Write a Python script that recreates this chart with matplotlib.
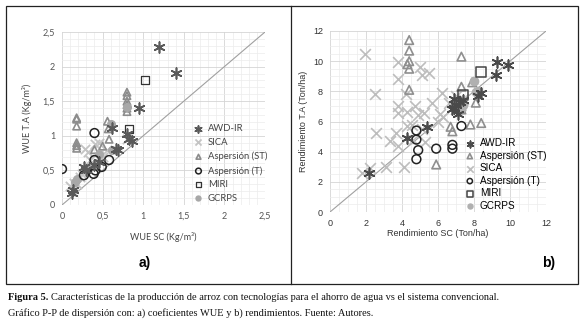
import matplotlib.pyplot as plt
import numpy as np
from matplotlib.patches import Rectangle
from matplotlib.lines import Line2D

# ---- data, panel a (WUE) ----
awd_a_x = [1.20, 1.41, 0.95, 0.61, 0.82, 0.86, 0.80, 0.67, 0.69, 0.14, 0.12, 0.30, 0.27, 0.45, 0.40]
awd_a_y = [2.28, 1.91, 1.40, 1.11, 0.95, 0.93, 1.02, 0.81, 0.80, 0.21, 0.17, 0.50, 0.55, 0.62, 0.58]
sica_a_x = [0.10, 0.15, 0.22, 0.28, 0.32, 0.35, 0.41, 0.45, 0.38, 0.55, 0.50, 0.80, 0.25, 0.18]
sica_a_y = [0.28, 0.32, 0.40, 0.81, 0.76, 0.65, 0.88, 0.90, 0.60, 0.80, 0.70, 0.95, 0.45, 0.30]
asp_st_a_x = [0.18, 0.18, 0.18, 0.18, 0.18, 0.18, 0.56, 0.57, 0.58, 0.40, 0.50,
              0.80, 0.80, 0.80, 0.80, 0.80, 0.80]
asp_st_a_y = [1.26, 1.24, 1.14, 0.90, 0.86, 0.82, 1.21, 1.10, 0.95, 0.80, 0.85,
              1.63, 1.58, 1.50, 1.45, 1.40, 1.35]
asp_t_a_x = [0.00, 0.40, 0.40, 0.58, 0.49, 0.41, 0.39, 0.27]
asp_t_a_y = [0.52, 1.04, 0.65, 0.65, 0.55, 0.50, 0.45, 0.43]
miri_a_x = [1.02, 0.82]
miri_a_y = [1.80, 1.10]
gcrps_a_x = [0.60, 0.45, 0.41, 0.18, 0.16, 0.61, 0.80, 0.35]
gcrps_a_y = [1.17, 0.74, 0.57, 0.38, 0.33, 0.79, 1.42, 0.55]

# ---- data, panel b (yields) ----
awd_b_x = [9.3, 9.9, 9.2, 8.4, 8.2, 6.9, 7.0, 7.2, 6.8, 7.4, 7.1, 6.9, 2.15, 4.3, 5.4]
awd_b_y = [9.97, 9.75, 9.05, 7.9, 7.7, 7.5, 7.1, 7.3, 6.8, 7.4, 6.5, 6.9, 2.6, 4.9, 5.65]
sica_b_x = [1.95, 2.5, 2.55, 1.8, 2.2, 3.1, 3.35, 3.65, 3.8, 3.75, 3.8, 3.8, 3.8, 4.1,
            4.25, 4.2, 4.55, 4.7, 4.9, 5.0, 5.1, 5.2, 5.5, 5.25, 5.65, 6.1, 6.2, 6.3,
            6.6, 7.0, 7.4, 7.0, 5.1, 4.6, 4.3, 6.0]
sica_b_y = [10.45, 7.85, 5.25, 2.6, 2.95, 3.0, 4.7, 5.25, 4.35, 7.0, 6.55, 8.85, 9.95, 3.0,
            6.6, 7.8, 5.75, 7.05, 6.4, 9.6, 9.05, 6.55, 9.2, 4.65, 7.2, 6.5, 7.9, 6.3,
            7.2, 7.7, 7.5, 6.8, 5.5, 4.8, 5.7, 6.0]
asp_st_b_x = [4.4, 4.4, 4.4, 4.3, 4.4, 4.4, 7.3, 7.9, 7.3, 8.1, 6.7, 6.8, 7.8, 8.4, 5.9, 7.3, 7.3]
asp_st_b_y = [11.4, 10.7, 10.0, 9.8, 9.5, 8.1, 10.3, 8.6, 8.3, 7.25, 5.65, 5.35, 5.8, 5.9, 3.15, 7.0, 6.8]
asp_t_b_x = [4.8, 4.8, 4.9, 4.8, 5.9, 6.8, 6.8, 7.3]
asp_t_b_y = [5.4, 4.8, 4.1, 3.5, 4.2, 4.45, 4.2, 5.7]
miri_b_x = [8.4, 7.4]
miri_b_y = [9.3, 7.75]
gcrps_b_x = [8.0, 8.1, 8.2, 7.3, 7.4]
gcrps_b_y = [8.7, 7.95, 8.0, 6.9, 7.1]

W, H = 581, 330
fig = plt.figure(figsize=(W / 100, H / 100), dpi=100)
fig.patch.set_facecolor('white')


def fx(px):
    return px / W


def fy(py):
    return 1 - py / H


# outer frame and divider
fig.add_artist(Rectangle((fx(6), fy(284)), fx(578) - fx(6), fy(6) - fy(284),
                         transform=fig.transFigure, fill=False, lw=0.9, ec='#222222'))
fig.add_artist(Line2D([fx(290.5), fx(290.5)], [fy(284), fy(6)], transform=fig.transFigure,
                      lw=0.9, color='#222222'))

STAR = (6, 2, 0)


def style_axes(ax, lim, major, minor, tick_labels, font, tcolor, fs):
    ax.set_xlim(0, lim)
    ax.set_ylim(0, lim)
    ax.set_xticks(np.arange(0, lim + 1e-9, major))
    ax.set_yticks(np.arange(0, lim + 1e-9, major))
    ax.set_xticks(np.arange(0, lim + 1e-9, minor), minor=True)
    ax.set_yticks(np.arange(0, lim + 1e-9, minor), minor=True)
    ax.set_xticklabels(tick_labels, family=font, color=tcolor, fontsize=fs)
    ax.set_yticklabels(tick_labels, family=font, color=tcolor, fontsize=fs)
    ax.grid(which='major', color='#d4d4d4', lw=0.6)
    ax.grid(which='minor', color='#ececec', lw=0.5)
    ax.set_axisbelow(True)
    for s in ax.spines.values():
        s.set_visible(False)
    ax.tick_params(which='both', length=0, pad=5)
    ax.plot([0, lim], [0, lim], color='#a0a0a0', lw=0.8, zorder=1)


# ---- panel a ----
axa = fig.add_axes([fx(62), fy(205), fx(265) - fx(62), fy(32) - fy(205)])
style_axes(axa, 2.5, 0.5, 0.1, ['0', '0,5', '1', '1,5', '2', '2,5'], 'Lato', '#555555', 6.5)
axa.scatter(sica_a_x, sica_a_y, marker='x', s=45, color='#c4c4c4', lw=1.3, label='SICA', zorder=2)
axa.scatter(asp_st_a_x, asp_st_a_y, marker='^', s=28, facecolor='none', edgecolor='#8c8c8c',
            lw=1.2, label='Aspersión (ST)', zorder=3)
axa.scatter(gcrps_a_x, gcrps_a_y, marker='o', s=30, color='#a8a8a8', label='GCRPS', zorder=3)
axa.scatter(asp_t_a_x, asp_t_a_y, marker='o', s=40, facecolor='none', edgecolor='#222222',
            lw=1.1, label='Aspersión (T)', zorder=4)
axa.scatter(miri_a_x, miri_a_y, marker='s', s=34, facecolor='none', edgecolor='#333333',
            lw=0.9, label='MIRI', zorder=4)
axa.scatter(awd_a_x, awd_a_y, marker=STAR, s=60, color='#5a5a5a', lw=1.2, label='AWD-IR', zorder=5)
axa.set_xlabel('WUE SC (Kg/m³)', family='Lato', fontsize=6.5, color='#444444', labelpad=8)
axa.set_ylabel('WUE T.A (Kg/m³)', family='Lato', fontsize=6.5, color='#444444', labelpad=8)
h, l = axa.get_legend_handles_labels()
order_a = ['AWD-IR', 'SICA', 'Aspersión (ST)', 'Aspersión (T)', 'MIRI', 'GCRPS']
hd = dict(zip(l, h))
leg = axa.legend([hd[k] for k in order_a], order_a, loc='lower right',
                 bbox_to_anchor=(1.03, -0.01), frameon=False, handletextpad=0.0,
                 labelspacing=0.5, markerscale=0.65, borderaxespad=0,
                 prop={'family': 'Lato', 'size': 6.8})
for t in leg.get_texts():
    t.set_color('#444444')

# ---- panel b ----
axb = fig.add_axes([fx(330), fy(212), fx(546) - fx(330), fy(31) - fy(212)])
style_axes(axb, 12, 2, 0.5, [str(v) for v in range(0, 13, 2)], 'Liberation Sans', '#333333', 6.5)
axb.scatter(sica_b_x, sica_b_y, marker='x', s=60, color='#bdbdbd', lw=1.2, label='SICA', zorder=2)
axb.scatter(asp_st_b_x, asp_st_b_y, marker='^', s=38, facecolor='none', edgecolor='#8f8f8f',
            lw=1.2, label='Aspersión (ST)', zorder=3)
axb.scatter(gcrps_b_x, gcrps_b_y, marker='o', s=36, color='#b0b0b0', label='GCRPS', zorder=3)
axb.scatter(asp_t_b_x, asp_t_b_y, marker='o', s=40, facecolor='none', edgecolor='#222222',
            lw=1.1, label='Aspersión (T)', zorder=4)
axb.scatter(miri_b_x, miri_b_y, marker='s', s=50, facecolor='none', edgecolor='#444444',
            lw=1.1, label='MIRI', zorder=4)
axb.scatter(awd_b_x, awd_b_y, marker=STAR, s=60, color='#4a4a4a', lw=1.2, label='AWD-IR', zorder=5)
axb.set_xlabel('Rendimiento SC (Ton/ha)', family='Liberation Sans', fontsize=6.5,
               color='#333333', labelpad=1)
axb.set_ylabel('Rendimiento T.A (Ton/ha)', family='Liberation Sans', fontsize=6.5,
               color='#333333', labelpad=4)
h, l = axb.get_legend_handles_labels()
order_b = ['AWD-IR', 'Aspersión (ST)', 'SICA', 'Aspersión (T)', 'MIRI', 'GCRPS']
hd = dict(zip(l, h))
axb.legend([hd[k] for k in order_b], order_b, loc='lower right',
           bbox_to_anchor=(1.02, -0.015), frameon=False, handletextpad=0.0,
           labelspacing=0.25, markerscale=0.6, borderaxespad=0,
           prop={'family': 'Liberation Sans', 'size': 7.2})

# panel tags
fig.text(fx(145), fy(263), 'a)', ha='center', va='center', fontsize=10, weight='bold',
         family='Liberation Sans')
fig.text(fx(549), fy(263), 'b)', ha='center', va='center', fontsize=10, weight='bold',
         family='Liberation Sans')

# caption
cap_fs = 7.5
bold = fig.text(fx(8), fy(298), 'Figura 5.', ha='left', va='center', fontsize=cap_fs,
                weight='bold', family='Liberation Serif', color='#111111')
r = fig.canvas.get_renderer()
bb = bold.get_window_extent(renderer=r)
fig.text(bb.x1 / fig.bbox.width + fx(3), fy(298),
         'Características de la producción de arroz con tecnologías para el ahorro de agua vs el sistema convencional.',
         ha='left', va='center', fontsize=cap_fs, family='Liberation Serif', color='#111111')
fig.text(fx(8), fy(313),
         'Gráfico P-P de dispersión con: a) coeficientes WUE y b) rendimientos. Fuente: Autores.',
         ha='left', va='center', fontsize=cap_fs, family='Liberation Serif', color='#111111')

fig.savefig('out.png', dpi=100)
